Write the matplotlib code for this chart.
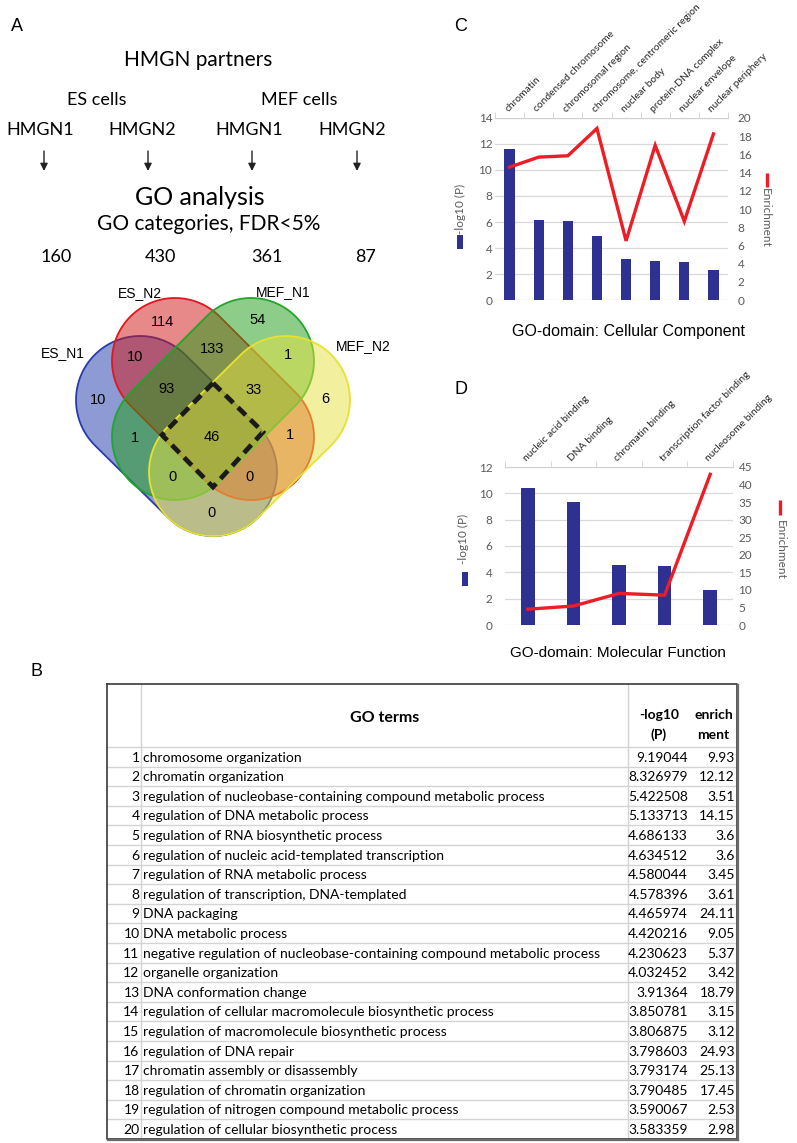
import numpy as np
import matplotlib.pyplot as plt
from matplotlib.colors import to_rgb
from matplotlib.patches import Polygon, Rectangle

plt.rcParams["font.family"] = "Lato"

W, H = 797, 1143

# ---- panel A data
cell_types = ["ES cells", "MEF cells"]
partners = ["HMGN1", "HMGN2", "HMGN1", "HMGN2"]
go_counts = [160, 430, 361, 87]

set_names = ["ES_N1", "ES_N2", "MEF_N1", "MEF_N2"]
venn_regions = ["A", "B", "C", "D", "AB", "BC", "CD", "ABC", "BCD",
                "ABCD", "AC", "BD", "ACD", "ABD", "AD"]
venn_values = [10, 114, 54, 6, 10, 133, 1, 93, 33, 46, 1, 1, 0, 0, 0]

# ---- panel C data
cc_terms = ["chromatin", "condensed chromosome", "chromosomal region",
            "chromosome, centromeric region", "nuclear body",
            "protein-DNA complex", "nuclear envelope", "nuclear periphery"]
cc_logp = [11.65, 6.15, 6.1, 4.95, 3.12, 2.98, 2.9, 2.3]
cc_enrich = [14.6, 15.7, 15.85, 18.85, 6.5, 17.0, 8.65, 18.25]

# ---- panel D data
mf_terms = ["nucleic acid binding", "DNA binding", "chromatin binding",
            "transcription factor binding", "nucleosome binding"]
mf_logp = [10.43, 9.32, 4.57, 4.49, 2.65]
mf_enrich = [4.5, 5.4, 9.0, 8.5, 42.9]

# ---- panel B table
go_terms = [
    "chromosome organization",
    "chromatin organization",
    "regulation of nucleobase-containing compound metabolic process",
    "regulation of DNA metabolic process",
    "regulation of RNA biosynthetic process",
    "regulation of nucleic acid-templated transcription",
    "regulation of RNA metabolic process",
    "regulation of transcription, DNA-templated",
    "DNA packaging",
    "DNA metabolic process",
    "negative regulation of nucleobase-containing compound metabolic process",
    "organelle organization",
    "DNA conformation change",
    "regulation of cellular macromolecule biosynthetic process",
    "regulation of macromolecule biosynthetic process",
    "regulation of DNA repair",
    "chromatin assembly or disassembly",
    "regulation of chromatin organization",
    "regulation of nitrogen compound metabolic process",
    "regulation of cellular biosynthetic process",
]
go_logp = ["9.19044", "8.326979", "5.422508", "5.133713", "4.686133",
           "4.634512", "4.580044", "4.578396", "4.465974", "4.420216",
           "4.230623", "4.032452", "3.91364", "3.850781", "3.806875",
           "3.798603", "3.793174", "3.790485", "3.590067", "3.583359"]
go_enrich = ["9.93", "12.12", "3.51", "14.15", "3.6", "3.6", "3.45", "3.61",
             "24.11", "9.05", "5.37", "3.42", "18.79", "3.15", "3.12",
             "24.93", "25.13", "17.45", "2.53", "2.98"]

fig = plt.figure(figsize=(W / 100, H / 100), dpi=100)
bg = fig.add_axes([0, 0, 1, 1])
bg.set_xlim(0, W)
bg.set_ylim(H, 0)
bg.axis("off")

arial = "Liberation Sans"

# panel letters
for lab, (x, y) in zip("ABCD", [(17, 31), (37, 676), (461, 31), (461, 394)]):
    bg.text(x, y, lab, fontsize=13, family=arial, ha="center", va="baseline")

# ---- panel A text
bg.text(198, 66, "HMGN partners", fontsize=15, ha="center", va="baseline")
for name, x in zip(cell_types, [97, 299]):
    bg.text(x, 105, name, fontsize=13, ha="center", va="baseline")
part_x = [40, 142, 249, 352]
arrow_x = [44, 148, 252, 357]
for name, x in zip(partners, part_x):
    bg.text(x, 135, name, fontsize=13, ha="center", va="baseline")
for x in arrow_x:
    bg.annotate("", xy=(x, 171), xytext=(x, 151),
                arrowprops=dict(arrowstyle="-|>", color="#222222", lw=1.0,
                                mutation_scale=11, shrinkA=0, shrinkB=0))
bg.text(200, 205, "GO analysis", fontsize=18, ha="center", va="baseline")
bg.text(209, 230, "GO categories, FDR<5%", fontsize=15, ha="center", va="baseline")
for n, x in zip(go_counts, [56, 160, 267, 366]):
    bg.text(x, 262, str(n), fontsize=13, ha="center", va="baseline")


# ---- Venn diagram (four stadium shapes)
def stadium(p1, p2, r, n=50):
    p1, p2 = np.array(p1, float), np.array(p2, float)
    d = (p2 - p1) / np.linalg.norm(p2 - p1)
    a0 = np.arctan2(d[1], d[0])
    t2 = np.linspace(a0 - np.pi / 2, a0 + np.pi / 2, n)
    t1 = np.linspace(a0 + np.pi / 2, a0 + 3 * np.pi / 2, n)
    arc2 = p2 + r * np.c_[np.cos(t2), np.sin(t2)]
    arc1 = p1 + r * np.c_[np.cos(t1), np.sin(t1)]
    return np.vstack([arc2, arc1])


shapes = [  # end centres, radius, fill, edge
    ((140, 400), (213, 472), 64, "#1d37a9", "#2a3ca8"),
    ((175, 361), (251, 437), 63, "#d11515", "#e3171b"),
    ((251, 361), (175, 437), 63, "#1f9d15", "#22a52a"),
    ((286, 400), (213, 472), 64, "#e7e141", "#e6e22e"),
]
for (p1, p2, r, fc, ec) in shapes:
    bg.add_patch(Polygon(stadium(p1, p2, r), closed=True,
                         facecolor=(*to_rgb(fc), 0.5), edgecolor=ec, lw=1.3))

diamond = Polygon([(213, 383), (263, 432), (213, 487), (162, 435)],
                  closed=True, fill=False, edgecolor="#1a1a1a", lw=3.4,
                  linestyle=(0, (2.3, 1.4)))
bg.add_patch(diamond)

region_xy = {"A": (98, 400), "B": (163, 322), "C": (258, 320), "D": (325, 399),
             "AB": (135, 357), "BC": (212, 349), "CD": (288, 355),
             "ABC": (167, 389), "BCD": (254, 390), "ABCD": (212, 437),
             "AC": (135, 438), "BD": (290, 435), "ACD": (173, 477),
             "ABD": (250, 477), "AD": (212, 513)}
for r, v in zip(venn_regions, venn_values):
    x, y = region_xy[r]
    bg.text(x, y, str(v), fontsize=10.5, family=arial, ha="center", va="center")

for name, (x, y) in zip(set_names, [(63, 353), (140, 293), (283, 292), (363, 346)]):
    bg.text(x, y, name, fontsize=10, family=arial, ha="center", va="center")


# ---- panels C and D
def bar_line(px, terms, logp, enrich, ymax, ystep, y2max, y2step, bw, padl, padr):
    x0, y0, x1, y1 = px
    ax = fig.add_axes([x0 / W, 1 - y1 / H, (x1 - x0) / W, (y1 - y0) / H])
    ax.set_facecolor("none")
    x = np.arange(len(terms))
    ax.bar(x, logp, width=bw, color="#2e3192", zorder=3)
    ax.set_xlim(-0.5, len(terms) - 0.5)
    ax.set_ylim(0, ymax)
    ax.set_yticks(np.arange(0, ymax + 0.01, ystep))
    ax.grid(axis="y", color="#d9d9d9", lw=0.9, zorder=0)
    for s in ["left", "right", "bottom"]:
        ax.spines[s].set_visible(False)
    ax.spines["top"].set_color("#d0d0d0")
    ax.xaxis.tick_top()
    ax.set_xticks(x)
    ax.set_xticklabels(terms, rotation=45, ha="left", va="bottom",
                       rotation_mode="anchor", fontsize=7.4, color="#262626")
    ax.set_xticks(np.arange(-0.5, len(terms)), minor=True)
    ax.tick_params(axis="x", which="major", length=0, pad=3)
    ax.tick_params(axis="x", which="minor", length=4, color="#d0d0d0")
    ax.tick_params(axis="y", length=0, labelsize=8.5, labelcolor="#595959", pad=padl)
    ax2 = ax.twinx()
    ax2.plot(x, enrich, color="#ee1c25", lw=2.4, zorder=4, solid_joinstyle="miter")
    ax2.set_ylim(0, y2max)
    ax2.set_yticks(np.arange(0, y2max + 0.01, y2step))
    for s in ax2.spines.values():
        s.set_visible(False)
    ax2.tick_params(axis="y", length=0, labelsize=8.5, labelcolor="#595959", pad=padr)
    return ax


bar_line((495, 118, 728, 300), cc_terms, cc_logp, cc_enrich, 14, 2, 20, 2, 0.35, 2, 7)
bar_line((505, 467, 733, 625), mf_terms, mf_logp, mf_enrich, 12, 2, 45, 5, 0.3, 9, 4)

# axis titles with legend keys
for (tx, ty, rx, ry) in [(460, 209, 457, 235), (463, 539, 462, 572)]:
    bg.text(tx, ty, "-log10 (P)", fontsize=8.5, color="#595959", rotation=90,
            ha="center", va="center")
    bg.add_patch(Rectangle((rx, ry), 6.5, 14, facecolor="#2e3192", edgecolor="none"))
for (tx, ty, lx, ly0, ly1) in [(765, 218, 767, 173, 187), (780, 550, 780, 500, 515)]:
    bg.text(tx, ty, "Enrichment", fontsize=8.5, color="#595959", rotation=-90,
            ha="center", va="center")
    bg.plot([lx, lx], [ly0, ly1], color="#ee1c25", lw=2.4, solid_capstyle="butt")

bg.text(629, 336, "GO-domain: Cellular Component", fontsize=11.5, family=arial,
        ha="center", va="baseline")
bg.text(618, 657, "GO-domain: Molecular Function", fontsize=11, family=arial,
        ha="center", va="baseline")

# ---- panel B table
tl, tr, tt, tb = 107, 737, 684, 1139
c_num, c_term, c_mid = 141, 628, 690
head_b = 747
row_h = (tb - head_b) / len(go_terms)
grid_c = "#d4d4d4"
for i in range(1, len(go_terms)):
    y = head_b + i * row_h
    bg.plot([tl, tr], [y, y], color=grid_c, lw=1)
bg.plot([tl, tr], [head_b, head_b], color=grid_c, lw=1)
for x in [c_num, c_term]:
    bg.plot([x, x], [tt, tb], color=grid_c, lw=1)
bg.plot([tl, tr, tr, tl, tl], [tt, tt, tb, tb, tt], color="#3a3a3a", lw=1.2)
bg.plot([tr + 1, tr + 1], [tt + 1, tb + 1], color="#6a6a6a", lw=1.6)
bg.plot([tl + 1, tr + 1], [tb + 1, tb + 1], color="#6a6a6a", lw=1.6)

bg.text((c_num + c_term) / 2, 722, "GO terms", fontsize=11.5, weight="bold",
        ha="center", va="baseline")
bg.text((c_term + c_mid) / 2, 719, "-log10", fontsize=10, weight="bold",
        ha="center", va="baseline")
bg.text((c_term + c_mid) / 2, 739, "(P)", fontsize=10, weight="bold",
        ha="center", va="baseline")
bg.text((c_mid + tr) / 2, 719, "enrich", fontsize=10, weight="bold",
        ha="center", va="baseline")
bg.text((c_mid + tr) / 2, 739, "ment", fontsize=10, weight="bold",
        ha="center", va="baseline")
for i, (term, lp, en) in enumerate(zip(go_terms, go_logp, go_enrich)):
    y = head_b + i * row_h + 14.5
    bg.text(c_num - 1.5, y, str(i + 1), fontsize=10, ha="right", va="baseline")
    bg.text(c_num + 2, y, term, fontsize=10, ha="left", va="baseline")
    bg.text(688, y, lp, fontsize=10, ha="right", va="baseline")
    bg.text(735, y, en, fontsize=10, ha="right", va="baseline")

fig.savefig("out.png", dpi=100)
